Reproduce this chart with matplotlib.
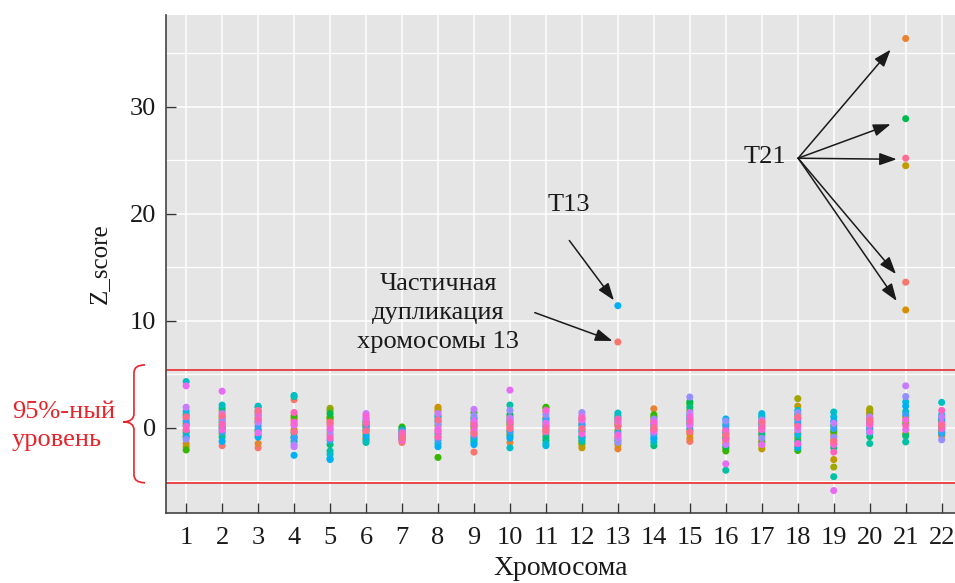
import numpy as np
import matplotlib.pyplot as plt
from matplotlib.path import Path
from matplotlib.patches import PathPatch
import matplotlib.transforms as mtransforms

plt.rcParams['font.family'] = ['Liberation Serif', 'DejaVu Serif']

# ggplot-like hue palette, one colour per sample (20 samples)
sample_colors = ['#F8766D', '#EA8331', '#D89000', '#C09B00', '#A3A500',
                 '#7CAE00', '#39B600', '#00BB4E', '#00BF7D', '#00C1A3',
                 '#00BFC4', '#00BAE0', '#00B0F6', '#35A2FF', '#9590FF',
                 '#C77CFF', '#E76BF3', '#FA62DB', '#FF62BC', '#FF6C91']

chromosomes = list(range(1, 23))

# Z-scores per chromosome, sample 1..20 in order
z_chr1 = [0.9, -0.3, -1.5, -1.8, -0.8, 0.4, -2.1, 1.2, 0.2, -0.5, 4.3, 1.5, -0.9, 0.6, -1.1, 1.9, 3.9, 0.1, -0.2, 1.0]
z_chr2 = [-1.7, 0.8, -0.6, 1.5, 0.2, 1.0, -0.1, 0.5, 1.8, -0.9, 2.1, 0.0, -1.3, -0.4, 0.7, 1.3, 3.4, -0.2, 0.3, 1.1]
z_chr3 = [-1.9, -1.5, 0.4, -0.7, 0.9, 1.2, -0.3, 0.6, 1.5, 1.9, 2.0, -0.2, -0.9, 0.1, 1.1, 0.5, -0.5, 1.4, 0.8, 1.6]
z_chr4 = [2.6, 0.3, -0.9, 0.7, -0.2, 0.9, 1.1, -0.5, -1.3, 2.9, 3.0, -0.9, -2.6, -1.0, -1.6, -1.8, 0.2, 0.5, 1.4, -0.4]
z_chr5 = [0.2, -0.6, 0.7, 1.0, 1.8, 1.6, 0.9, 1.3, -1.6, -2.2, -2.5, -2.9, -3.0, -1.2, -0.3, -0.8, 0.4, -0.1, -1.0, 0.5]
z_chr6 = [-0.4, -1.1, -1.0, 0.2, -0.6, 0.5, 0.1, -0.2, 0.3, -1.4, -1.2, 0.6, -0.8, 0.0, 0.9, 1.3, 0.8, 1.1, 0.4, -0.3]
z_chr7 = [-1.4, -1.2, -0.9, -0.7, -0.5, -0.2, 0.05, -0.1, -0.6, -0.4, -1.0, -0.8, -1.1, -0.3, -0.6, -0.9, -0.7, -1.2, -0.5, -1.0]
z_chr8 = [-0.3, 1.5, 1.9, 1.7, 0.2, -0.9, -2.8, 1.1, 0.6, -0.6, -1.5, 0.9, -1.8, -1.2, 0.4, 1.3, -0.1, -0.4, -0.9, 0.7]
z_chr9 = [-2.3, -0.5, 0.3, -0.1, 0.9, 0.5, 1.4, -1.0, 0.1, -1.4, -1.2, 0.8, -1.6, -0.8, 1.1, 1.7, 0.6, -0.3, 0.2, -0.6]
z_chr10 = [0.8, -1.4, -0.6, 0.2, 1.0, -0.3, 0.4, 1.2, -0.8, 2.1, -1.9, 0.6, -1.0, -0.4, 1.6, 0.9, 3.5, 0.0, 0.5, -0.1]
z_chr11 = [0.3, -0.6, 0.9, -0.2, 1.5, 1.8, 1.9, -1.2, -0.9, 0.6, -1.5, -1.7, 0.1, 0.8, 1.2, -0.4, 0.4, 1.6, 0.0, -0.3]
z_chr12 = [0.5, -1.2, -1.6, -1.9, -1.5, 0.8, -0.9, 0.2, -0.4, -1.3, -0.8, -1.0, -0.2, 0.3, 1.4, 1.1, 0.7, -0.6, 0.9, -0.1]
z_chr13 = [8.0, -2.0, -1.6, -0.9, 0.5, -0.3, 0.2, -1.2, 0.9, 1.1, 1.35, 0.7, 11.4, -0.5, -1.4, -1.0, 0.4, -0.7, 0.8, 0.1]
z_chr14 = [0.4, 1.75, 0.9, -0.3, 0.6, 1.0, 1.2, -0.1, -1.7, -1.4, -0.9, 0.2, -1.1, -0.6, 0.8, 0.3, -0.4, 0.5, -0.2, 0.0]
z_chr15 = [-1.3, -1.0, -0.6, -0.3, 0.5, 1.6, 2.2, 2.4, 1.9, 0.9, 1.2, 0.3, -0.1, 0.7, 2.85, 1.4, 0.2, 1.0, 0.6, -0.4]
z_chr16 = [-0.6, -1.2, -0.9, -1.5, -0.2, -2.0, -2.2, -1.8, -1.0, -4.0, 0.3, -0.5, 0.8, 0.1, 0.6, -1.6, -3.4, -0.3, -1.1, -0.7]
z_chr17 = [-0.4, -0.8, -1.2, -2.0, -1.7, -0.1, -1.4, 0.4, -0.6, 0.9, 1.1, 1.3, 0.2, 0.6, -1.0, 0.7, -1.6, -0.2, 0.1, 0.5]
z_chr18 = [-0.5, -1.7, 0.3, 2.0, 2.7, -1.0, -2.15, 0.8, -1.3, 1.2, 1.6, -0.7, -1.9, 0.5, 1.4, -0.2, 0.9, -1.5, 0.1, 1.0]
z_chr19 = [-1.5, -0.8, -1.2, -3.0, -3.7, -0.5, -0.3, 0.2, -1.9, -4.6, 1.45, 1.0, 0.6, -0.1, -0.9, 0.4, -5.9, -1.6, -2.3, -1.3]
z_chr20 = [0.3, 1.3, 1.6, 1.5, 1.75, 1.2, 0.9, 0.6, -0.85, -1.5, -0.5, 0.0, -0.2, 0.5, 0.8, 1.0, -0.4, 0.2, 0.4, 0.7]
z_chr21 = [13.6, 36.4, 11.0, 24.5, 1.0, -0.6, 0.4, 28.9, -0.8, -1.35, 1.5, 2.4, 2.0, 1.2, 2.9, 3.9, -0.2, 0.7, 0.2, 25.2]
z_chr22 = [0.5, -0.8, -0.4, 0.1, 0.3, -0.2, 0.6, 0.0, -0.6, 0.9, 2.35, 1.2, 0.8, -0.5, -1.15, 1.0, 0.4, -0.1, 1.6, 0.2]

z_by_chrom = [z_chr1, z_chr2, z_chr3, z_chr4, z_chr5, z_chr6, z_chr7, z_chr8,
              z_chr9, z_chr10, z_chr11, z_chr12, z_chr13, z_chr14, z_chr15,
              z_chr16, z_chr17, z_chr18, z_chr19, z_chr20, z_chr21, z_chr22]

# 95% level lines
upper_level = 5.4
lower_level = -5.15

fig = plt.figure(figsize=(9.55, 5.83), dpi=100)
ax = fig.add_axes([166 / 955, 70 / 583, 789 / 955, 498 / 583])
ax.set_facecolor('#e5e5e5')

for chrom, vals in zip(chromosomes, z_by_chrom):
    ax.scatter([chrom] * len(vals), vals, c=sample_colors[:len(vals)],
               s=26, linewidths=0, zorder=3)

ax.axhline(upper_level, color='#e8393c', lw=1.3, zorder=2)
ax.axhline(lower_level, color='#e8393c', lw=1.3, zorder=2)

ax.set_xlim(0.44, 22.37)
ax.set_ylim(-8, 38.6)
ax.set_xticks(chromosomes)
ax.set_yticks([0, 10, 20, 30])
ax.set_yticks([-5, 5, 15, 25, 35], minor=True)
ax.grid(which='major', color='white', lw=1.1, zorder=0)
ax.grid(which='minor', axis='y', color='white', lw=0.9, zorder=0)
ax.set_axisbelow(True)

for s in ['top', 'right']:
    ax.spines[s].set_visible(False)
for s in ['left', 'bottom']:
    ax.spines[s].set_color('#444444')
    ax.spines[s].set_linewidth(1.2)

ax.tick_params(which='major', direction='in', length=7, width=1,
               color='#333333', labelsize=19, labelcolor='#1a1a1a')
ax.tick_params(axis='x', pad=10)
ax.tick_params(axis='y', pad=7)
ax.tick_params(which='minor', length=0)

ax.set_xlabel('Хромосома', fontsize=20, labelpad=5, color='#1a1a1a')
ax.set_ylabel('Z_score', fontsize=18, labelpad=14, color='#1a1a1a')

# annotations
arrow_kw = dict(arrowstyle='-|>,head_length=0.7,head_width=0.25',
                color='#1a1a1a', lw=1.1, shrinkA=0, shrinkB=0,
                mutation_scale=15)

ax.text(11.64, 20.8, 'T13', fontsize=19, ha='center', va='center', color='#1a1a1a')
ax.annotate('', xy=(12.89, 11.9), xytext=(11.65, 17.5), arrowprops=arrow_kw)

ax.text(8.0, 10.7, 'Частичная\nдупликация\nхромосомы 13', fontsize=19,
        ha='center', va='center', linespacing=1.4, color='#1a1a1a')
ax.annotate('', xy=(12.85, 8.1), xytext=(10.69, 10.75), arrowprops=arrow_kw)

ax.text(17.09, 25.3, 'T21', fontsize=19, ha='center', va='center', color='#1a1a1a')
t21_start = (18.01, 25.2)
t21_ends = [(20.58, 35.36), (20.58, 28.38), (20.75, 25.1), (20.73, 14.36), (20.75, 11.84)]
for end in t21_ends:
    ax.annotate('', xy=end, xytext=t21_start, arrowprops=arrow_kw)

# 95% level label with brace
fig.text(12 / 955, 1 - 426 / 583, '95%-ный\nуровень', fontsize=19, color='#e8232a',
         ha='left', va='center', linespacing=1.3)

trans = mtransforms.blended_transform_factory(ax.transAxes, ax.transData)
e, b, t = -0.0266, -0.0406, -0.0545
top, bot, mid, r = 5.86, -5.17, 0.53, 0.75
verts = [(e, top), (b, top), (b, top - r),
         (b, mid + r),
         (b, mid), (t, mid),
         (b, mid), (b, mid - r),
         (b, bot + r),
         (b, bot), (e, bot)]
codes = [Path.MOVETO, Path.CURVE3, Path.CURVE3,
         Path.LINETO,
         Path.CURVE3, Path.CURVE3,
         Path.CURVE3, Path.CURVE3,
         Path.LINETO,
         Path.CURVE3, Path.CURVE3]
brace = PathPatch(Path(verts, codes), transform=trans, fill=False,
                  edgecolor='#e8232a', lw=1.2, clip_on=False)
ax.add_patch(brace)

fig.savefig('out.png', dpi=100)
